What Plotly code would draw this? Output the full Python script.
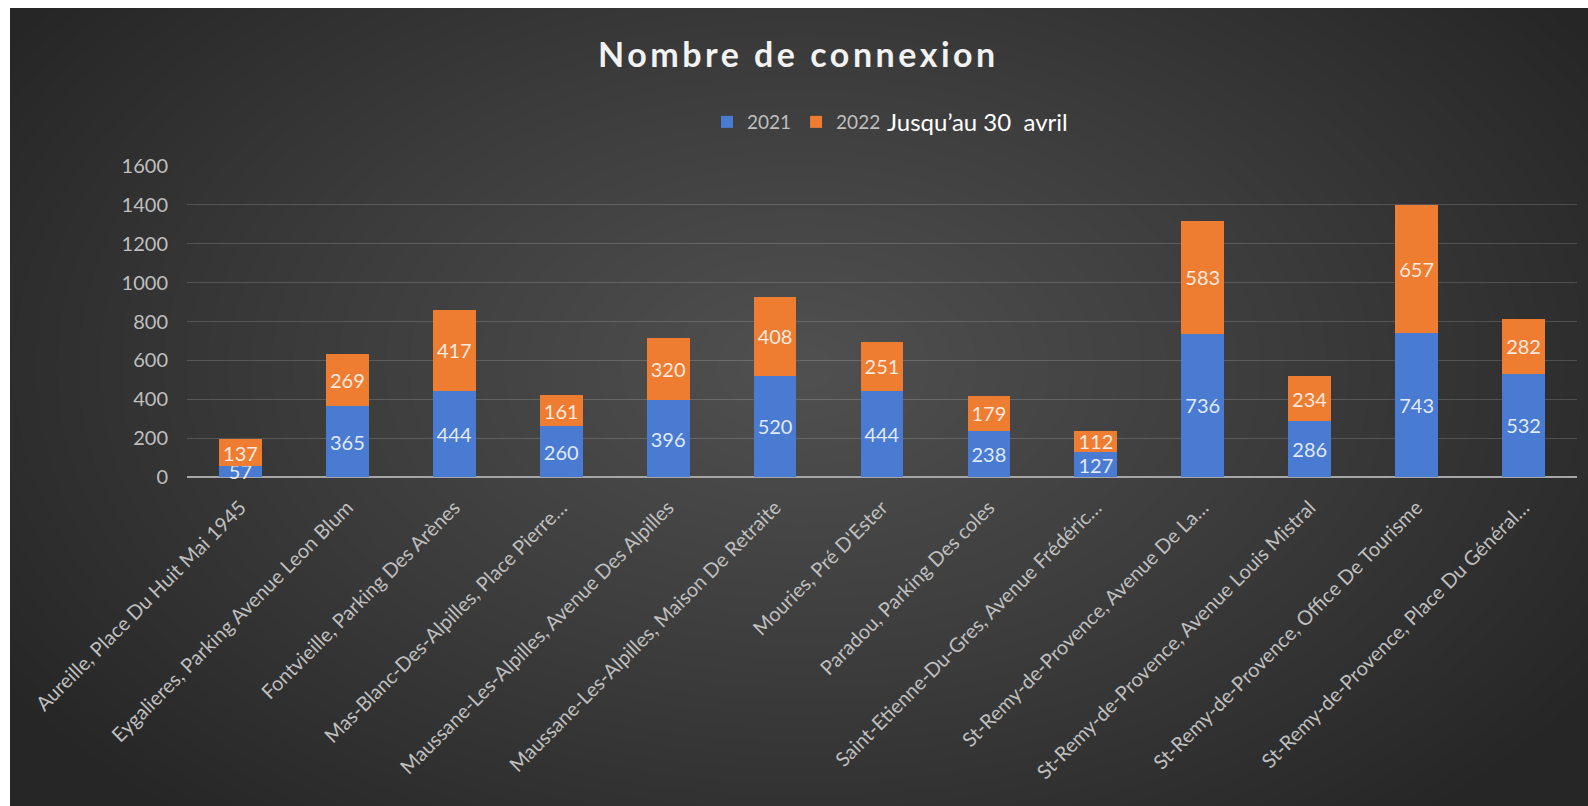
import numpy as np
import plotly.graph_objects as go

W, H = 1588, 806

categories = [
    "Aureille, Place Du Huit Mai 1945",
    "Eygalieres, Parking Avenue Leon Blum",
    "Fontvieille, Parking Des Arènes",
    "Mas-Blanc-Des-Alpilles, Place Pierre…",
    "Maussane-Les-Alpilles, Avenue Des Alpilles",
    "Maussane-Les-Alpilles, Maison De Retraite",
    "Mouries, Pré D'Ester",
    "Paradou, Parking Des coles",
    "Saint-Etienne-Du-Gres, Avenue Frédéric…",
    "St-Remy-de-Provence, Avenue De La…",
    "St-Remy-de-Provence, Avenue Louis Mistral",
    "St-Remy-de-Provence, Office De Tourisme",
    "St-Remy-de-Provence, Place Du Général…",
]
values_2021 = [57, 365, 444, 260, 396, 520, 444, 238, 127, 736, 286, 743, 532]
values_2022 = [137, 269, 417, 161, 320, 408, 251, 179, 112, 583, 234, 657, 282]
y_ticks = [0, 200, 400, 600, 800, 1000, 1200, 1400, 1600]

FONT = "Lato"
GREY = "#bfbfbf"

# --- background radial gradient (decoration only) ---
nx, ny = 120, 60
gx = np.linspace(0, 1, nx)
gy = np.linspace(0, 1, ny)
XX, YY = np.meshgrid(gx, gy)
cx, cy = 0.5, 0.55
dist = np.sqrt(((XX - cx) / 0.60) ** 2 + ((YY - cy) / 0.75) ** 2)
bg = np.clip(dist, 0, 1)

fig = go.Figure()
fig.add_trace(go.Heatmap(
    x=gx, y=gy, z=bg, zmin=0, zmax=1, zsmooth="best",
    colorscale=[[0, "#505050"], [0.5, "#3c3c3c"], [1, "#262626"]],
    showscale=False, hoverinfo="skip", xaxis="x", yaxis="y",
))

label_font = dict(family=FONT, size=20, color="rgba(255,255,255,0.85)")
fig.add_trace(go.Bar(
    name="2021", x=categories, y=values_2021, xaxis="x2", yaxis="y2",
    marker=dict(color="#4a7bd2", line=dict(width=0)),
    texttemplate="%{y}", textposition="inside", insidetextanchor="middle",
    textangle=0, textfont=label_font, insidetextfont=label_font,
    constraintext="none", cliponaxis=False,
))
fig.add_trace(go.Bar(
    name="2022", x=categories, y=values_2022, xaxis="x2", yaxis="y2",
    marker=dict(color="#ee7d32", line=dict(width=0)),
    texttemplate="%{y}", textposition="inside", insidetextanchor="middle",
    textangle=0, textfont=label_font, insidetextfont=label_font,
    constraintext="none", cliponaxis=False,
))

fig.update_layout(
    width=W, height=H,
    margin=dict(l=0, r=0, t=0, b=0, pad=0, autoexpand=False),
    paper_bgcolor="white",
    plot_bgcolor="rgba(0,0,0,0)",
    barmode="stack",
    bargap=0.6,
    uniformtext=dict(mode="show", minsize=20),
    font=dict(family=FONT, color=GREY, size=18),
    xaxis=dict(domain=[10 / W, 1], range=[0, 1], visible=False,
               fixedrange=True, automargin=False),
    yaxis=dict(domain=[0, (H - 8) / H], range=[0, 1], visible=False,
               fixedrange=True, automargin=False),
    xaxis2=dict(
        domain=[187 / W, 1577 / W], anchor="y2", automargin=False,
        tickangle=-45, showgrid=False, zeroline=False, showline=False,
        tickfont=dict(family=FONT, size=20, color=GREY),
        ticklabelstandoff=14,
    ),
    yaxis2=dict(
        domain=[(H - 477) / H, (H - 166) / H], anchor="x2", automargin=False,
        range=[0, 1600], tickvals=y_ticks,
        showgrid=True, gridcolor="rgba(255,255,255,0.16)", gridwidth=1,
        zeroline=True, zerolinecolor="#a6a6a6", zerolinewidth=2,
        showline=False, ticks="",
        tickfont=dict(family=FONT, size=20, color=GREY),
        ticklabelstandoff=18,
    ),
    legend=dict(
        orientation="h", x=707 / W, xanchor="left",
        y=(H - 122) / H, yanchor="middle",
        font=dict(family=FONT, size=19, color=GREY),
        bgcolor="rgba(0,0,0,0)", itemwidth=30, traceorder="normal",
    ),
    showlegend=True,
)

fig.add_annotation(
    text="<b><span style='letter-spacing:3.5px'>Nombre de connexion</span></b>",
    x=798 / W, y=(H - 53) / H, xref="paper", yref="paper",
    xanchor="center", yanchor="middle", showarrow=False,
    font=dict(family=FONT, size=34, color="#f2f2f2"),
)
fig.add_annotation(
    text="Jusqu’au 30  avril",
    x=885 / W, y=(H - 122) / H, xref="paper", yref="paper",
    xanchor="left", yanchor="middle", showarrow=False,
    font=dict(family=FONT, size=24, color="#ffffff"),
)

fig.write_html(
    "out.html",
    config={"displayModeBar": False},
    post_script="document.body.style.margin='0';document.body.style.overflow='hidden';",
)
